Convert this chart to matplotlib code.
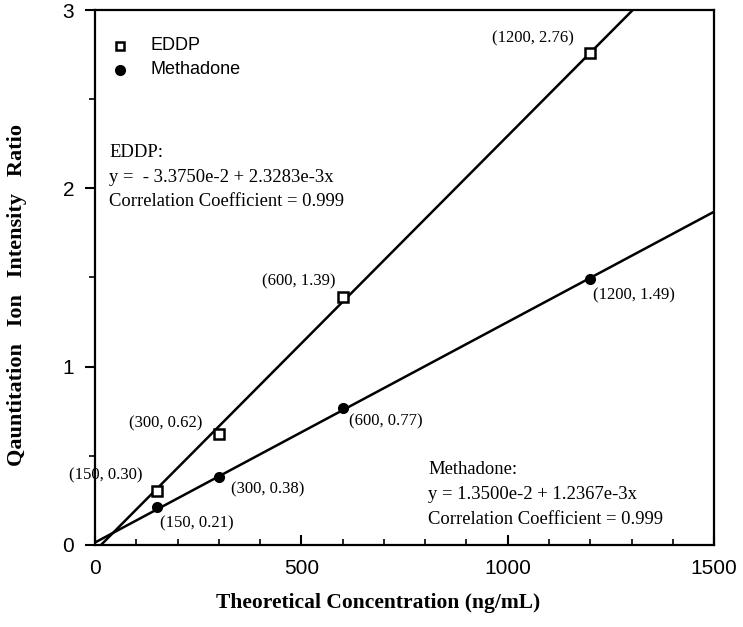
import matplotlib
matplotlib.use("Agg")
import matplotlib.pyplot as plt
import numpy as np
from matplotlib.ticker import MultipleLocator

conc = [150, 300, 600, 1200]
eddp = [0.30, 0.62, 1.39, 2.76]
methadone = [0.21, 0.38, 0.77, 1.49]
eddp_fit = (-3.3750e-2, 2.3283e-3)
meth_fit = (1.3500e-2, 1.2367e-3)

eddp_labels = ["(150, 0.30)", "(300, 0.62)", "(600, 1.39)", "(1200, 2.76)"]
meth_labels = ["(150, 0.21)", "(300, 0.38)", "(600, 0.77)", "(1200, 1.49)"]
eddp_label_pos = [(27, 0.39), (172, 0.68), (494, 1.48), (1061, 2.84)]
meth_label_pos = [(247, 0.12), (419, 0.31), (705, 0.69), (1306, 1.40)]

serif = "Liberation Serif"
sans = "Liberation Sans"

fig = plt.figure(figsize=(7.43, 6.27), dpi=100)
ax = fig.add_axes([0.128, 0.131, 0.833, 0.853])

xs = np.array([0, 1500])
ax.plot(xs, eddp_fit[0] + eddp_fit[1] * xs, color="black", lw=1.8, zorder=2)
ax.plot(xs, meth_fit[0] + meth_fit[1] * xs, color="black", lw=1.8, zorder=2)
ax.plot(conc, eddp, linestyle="none", marker="s", markersize=7, markerfacecolor="white",
        markeredgecolor="black", markeredgewidth=1.8, zorder=3)
ax.plot(conc, methadone, linestyle="none", marker="o", markersize=7, color="black", zorder=3)

for lab, (x, y) in zip(eddp_labels, eddp_label_pos):
    ax.text(x, y, lab, family=serif, fontsize=12, ha="center", va="center")
for lab, (x, y) in zip(meth_labels, meth_label_pos):
    ax.text(x, y, lab, family=serif, fontsize=12, ha="center", va="center")

# legend
ax.plot([61], [2.8], linestyle="none", marker="s", markersize=6, markerfacecolor="white",
        markeredgecolor="black", markeredgewidth=1.8)
ax.plot([61], [2.665], linestyle="none", marker="o", markersize=7, color="black")
ax.text(135, 2.8, "EDDP", family=sans, fontsize=13, va="center", ha="left")
ax.text(135, 2.665, "Methadone", family=sans, fontsize=13, va="center", ha="left")

ax.text(34, 2.20, "EDDP:", family=serif, fontsize=13.4, va="center", ha="left")
ax.text(34, 2.06, "y =  - 3.3750e-2 + 2.3283e-3x", family=serif, fontsize=13.4, va="center", ha="left")
ax.text(34, 1.925, "Correlation Coefficient = 0.999", family=serif, fontsize=13.4, va="center", ha="left")

ax.text(807, 0.42, "Methadone:", family=serif, fontsize=13.4, va="center", ha="left")
ax.text(807, 0.28, "y = 1.3500e-2 + 1.2367e-3x", family=serif, fontsize=13.4, va="center", ha="left")
ax.text(807, 0.145, "Correlation Coefficient = 0.999", family=serif, fontsize=13.4, va="center", ha="left")

ax.set_xlim(0, 1500)
ax.set_ylim(0, 3)
ax.xaxis.set_major_locator(MultipleLocator(500))
ax.xaxis.set_minor_locator(MultipleLocator(100))
ax.yaxis.set_major_locator(MultipleLocator(1))
ax.yaxis.set_minor_locator(MultipleLocator(0.5))
ax.tick_params(axis="x", which="major", direction="in", length=7, width=1.5, pad=10, labelsize=15)
ax.tick_params(axis="x", which="minor", direction="in", length=4, width=1.2)
ax.tick_params(axis="y", which="major", direction="out", length=7, width=1.5, pad=8, labelsize=15)
ax.tick_params(axis="y", which="minor", direction="out", length=4, width=1.2)
for lab in ax.get_xticklabels() + ax.get_yticklabels():
    lab.set_family(sans)
for s in ax.spines.values():
    s.set_linewidth(1.6)

fig.text(378 / 743, 1 - 603 / 627, "Theoretical Concentration (ng/mL)", family=serif,
         fontsize=15.5, fontweight="bold", ha="center", va="center")
fig.text(17 / 743, 1 - 295 / 627, "Qauntitation   Ion   Intensity   Ratio", family=serif,
         fontsize=16, fontweight="bold", ha="center", va="center", rotation=90)

fig.savefig("out.png", dpi=100)
